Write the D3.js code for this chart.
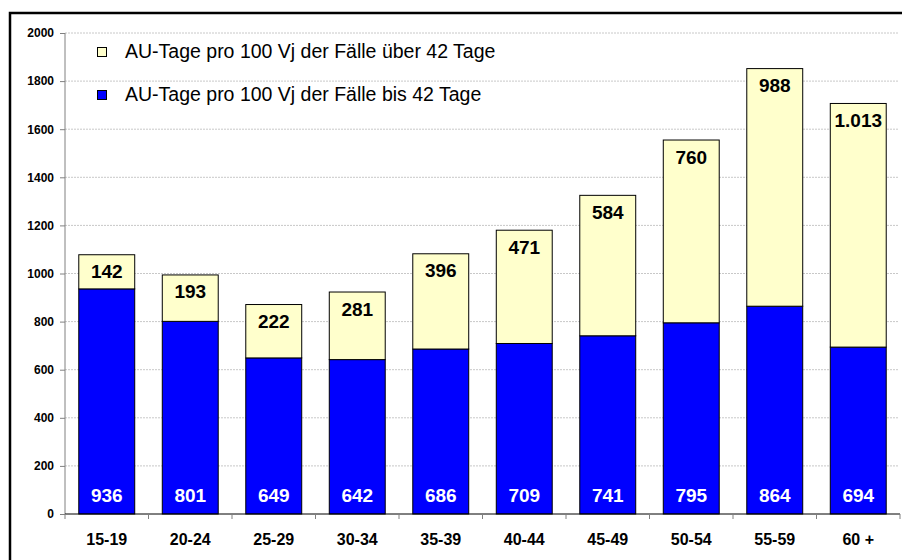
<!DOCTYPE html>
<html><head><meta charset="utf-8">
<script src="https://cdn.jsdelivr.net/npm/d3@7"></script>
<style>body{margin:0;background:#fff;}svg{display:block;font-family:"Liberation Sans",Arial,sans-serif;}</style>
</head><body>
<script>
const categories = ["15-19","20-24","25-29","30-34","35-39","40-44","45-49","50-54","55-59","60 +"];
const bis42 = [936,801,649,642,686,709,741,795,864,694];
const ueber42 = [142,193,222,281,396,471,584,760,988,1013];
const ueberLabels = ["142","193","222","281","396","471","584","760","988","1.013"];
const yTicks = [0,200,400,600,800,1000,1200,1400,1600,1800,2000];
const legendLabels = ["AU-Tage pro 100 Vj der Fälle über 42 Tage","AU-Tage pro 100 Vj der Fälle bis 42 Tage"];

const W=902,H=560;
const svg=d3.select("body").append("svg").attr("width",W).attr("height",H);
svg.append("rect").attr("x",10).attr("y",13).attr("width",W).attr("height",H).attr("fill","#fff").attr("stroke","#000").attr("stroke-width",2.5);

const x=d3.scaleBand().domain(categories).range([65,900]).paddingInner(0.33).paddingOuter(0.165);
const y=d3.scaleLinear().domain([0,2000]).range([514,33]);

// gridlines
svg.append("g").selectAll("line").data(yTicks.filter(d=>d>0)).join("line")
 .attr("x1",65).attr("x2",899).attr("y1",d=>y(d)).attr("y2",d=>y(d))
 .attr("stroke","#c8c8c8").attr("stroke-width",1).attr("stroke-dasharray","2,1");

// y axis
const ya=svg.append("g").attr("transform","translate(65,0)").call(d3.axisLeft(y).tickValues(yTicks).tickSize(5).tickPadding(6).tickFormat(d3.format("d")));
ya.select(".domain").attr("stroke","#808080").attr("d","M0,"+y(2000)+"V"+y(0));
ya.selectAll(".tick line").attr("stroke","#808080");
ya.selectAll("text").attr("font-size",12).attr("font-weight","bold").attr("fill","#000").attr("font-family","Liberation Sans, Arial, sans-serif");

// bars
const g=svg.append("g");
categories.forEach((c,i)=>{
  g.append("rect").attr("x",x(c)).attr("width",x.bandwidth()).attr("y",y(bis42[i])).attr("height",y(0)-y(bis42[i]))
   .attr("fill","#0000ff").attr("stroke","#000").attr("stroke-width",1);
  g.append("rect").attr("x",x(c)).attr("width",x.bandwidth()).attr("y",y(bis42[i]+ueber42[i])).attr("height",y(bis42[i])-y(bis42[i]+ueber42[i]))
   .attr("fill","#ffffcc").attr("stroke","#000").attr("stroke-width",1);
  g.append("text").attr("x",x(c)+x.bandwidth()/2).attr("y",501.5).attr("text-anchor","middle")
   .attr("font-size",19).attr("font-weight","bold").attr("fill","#fff").text(bis42[i]);
  g.append("text").attr("x",x(c)+x.bandwidth()/2).attr("y",y(bis42[i]+ueber42[i])+23.5).attr("text-anchor","middle")
   .attr("font-size",19).attr("font-weight","bold").attr("fill","#000").text(ueberLabels[i]);
});

// x axis
const xa=svg.append("g").attr("transform","translate(0,514)");
xa.append("line").attr("x1",65).attr("x2",900).attr("y1",0).attr("y2",0).attr("stroke","#000");
const tickXs=categories.map(c=>x(c)-x.step()*x.paddingInner()/2).concat([900]);
xa.selectAll("line.t").data(tickXs).join("line").attr("class","t").attr("x1",d=>d).attr("x2",d=>d).attr("y1",0).attr("y2",5).attr("stroke","#808080");
xa.selectAll("text").data(categories).join("text").attr("x",c=>x(c)+x.bandwidth()/2).attr("y",31).attr("text-anchor","middle")
 .attr("font-size",16).attr("font-weight","bold").text(d=>d);

// legend
const lg=svg.append("g");
[["#ffffcc",0],["#0000ff",1]].forEach(([col,i])=>{
  lg.append("rect").attr("x",97.5).attr("y",47.5+i*43).attr("width",9).attr("height",9).attr("fill",col).attr("stroke","#000").attr("stroke-width",1);
  lg.append("text").attr("x",125).attr("y",57.5+i*43).attr("font-size",19.5).attr("fill","#000").text(legendLabels[i]);
});
</script>
</body></html>
